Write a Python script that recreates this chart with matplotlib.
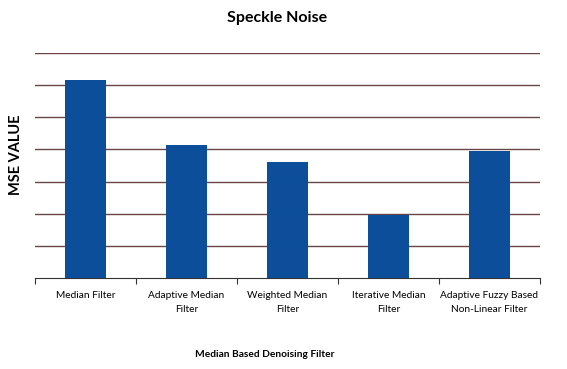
import numpy as np
import matplotlib.pyplot as plt

# data (units of one gridline step)
filters = ['Median Filter', 'Adaptive Median\nFilter', 'Weighted Median\nFilter',
           'Iterative Median\nFilter', 'Adaptive Fuzzy Based\nNon-Linear Filter']
mse = [6.16, 4.14, 3.60, 1.96, 3.96]

plt.rcParams['font.family'] = ['Lato', 'DejaVu Sans']

fig = plt.figure(figsize=(5.67, 3.69), dpi=100)
ax = fig.add_axes([0.062, 0.246, 0.890, 0.611])

x = np.arange(len(filters))
ax.bar(x, mse, width=0.4, color='#0c4e9a', zorder=3)

ax.set_xlim(-0.5, len(filters) - 0.5)
ax.set_ylim(0, 7)
ax.set_yticks(np.arange(1, 8))
ax.yaxis.grid(True, color='#6a4545', linewidth=1.0, zorder=0)
ax.tick_params(axis='y', left=False, labelleft=False)

# category labels at centres, tick marks at boundaries
ax.set_xticks(x)
ax.set_xticklabels(filters, fontsize=7.3, linespacing=1.7)
ax.tick_params(axis='x', length=0, pad=9)
ax.set_xticks(np.arange(-0.5, len(filters)), minor=True)
ax.tick_params(axis='x', which='minor', length=4, color='#333333', width=0.8)

for s in ['left', 'right', 'top']:
    ax.spines[s].set_visible(False)
ax.spines['bottom'].set_color('#333333')

ax.set_title('Speckle Noise', fontsize=11.5, fontweight='bold', x=0.479, y=1.0, pad=22)
ax.set_ylabel('MSE VALUE', fontsize=10.5, fontweight='bold')
ax.yaxis.set_label_coords(-0.024, 0.547)
ax.set_xlabel('Median Based Denoising Filter', fontsize=7.3, fontweight='bold')
ax.xaxis.set_label_coords(0.455, -0.32)

fig.savefig('out.png', dpi=100)
